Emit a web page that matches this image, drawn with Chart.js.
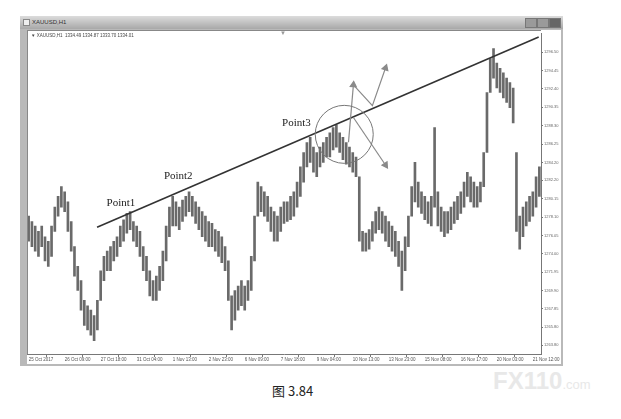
<!DOCTYPE html>
<html>
<head>
<meta charset="utf-8">
<script src="https://cdn.jsdelivr.net/npm/chart.js@4/dist/chart.umd.min.js"></script>
<style>
body { margin:0; width:621px; height:419px; background:#fff; position:relative; overflow:hidden; font-family:"Liberation Sans", Arial, sans-serif; }
#win { position:absolute; left:20px; top:16px; width:543px; height:350px; background:#b9b9b9; }
#titlebar { position:absolute; left:0; top:0; width:543px; height:13px; background:linear-gradient(#dcdcdc, #a8a8a8); }
#icon { position:absolute; left:3px; top:3px; width:5px; height:5px; background:#eee; border:1px solid #888; }
#titletext { position:absolute; left:12px; top:3px; font-size:6px; line-height:7px; color:#333; }
.btn { position:absolute; top:2px; width:10px; height:8px; background:#9a9a9a; border:1px solid #777; }
#content { position:absolute; left:7px; top:14px; width:534px; height:334px; background:#fff; }
#frame { position:absolute; left:0; top:0; width:513px; height:323px; border-left:1px solid #888; border-top:1px solid #888; pointer-events:none; }
#info { position:absolute; left:4px; top:3px; font-size:4.5px; line-height:5px; color:#444; white-space:pre; }
#shift { position:absolute; left:253px; top:0px; font-size:6px; color:#999; }
#caption { position:absolute; left:272px; top:381px; font-size:13px; color:#222; font-family:"Noto Sans CJK SC", sans-serif; }
#mark { position:absolute; left:493px; top:368px; font-size:24px; line-height:26px; font-weight:bold; color:#e8e8e8; font-family:"Liberation Sans", Arial, sans-serif; }
#mark span { font-size:13px; font-weight:normal; }
</style>
</head>
<body>
<div id="win">
  <div id="titlebar">
    <div id="icon"></div>
    <div id="titletext">XAUUSD,H1</div>
    <div class="btn" style="left:505px"></div>
    <div class="btn" style="left:517px"></div>
    <div class="btn" style="left:529px;background:#666"></div>
  </div>
  <div id="content">
    <canvas id="chart" width="534" height="334"></canvas>
    <div id="frame"></div>
    <div id="info">▼ XAUUSD,H1  1334.49 1334.87 1333.70 1334.01</div>
    <div id="shift">▼</div>
  </div>
</div>
<div id="caption">图 3.84</div>
<div id="mark">FX110<span>.com</span></div>
<script>
// x tick labels, one every 11 bars (33 hours)
const xTickLabels = ['25 Oct 2017', '26 Oct 09:00', '27 Oct 18:00', '31 Oct 04:00', '1 Nov 13:00',
    '2 Nov 23:00', '6 Nov 09:00', '7 Nov 18:00', '9 Nov 04:00', '10 Nov 13:00', '13 Nov 23:00',
    '15 Nov 08:00', '16 Nov 17:00', '20 Nov 03:00', '21 Nov 12:00'];
const xTickIndex = [0, 11, 22, 33, 44, 55, 66, 77, 88, 99, 110, 121, 132, 143, 154];
const yTickLabels = ['1296.50', '1294.45', '1292.40', '1290.35', '1288.30', '1286.25', '1284.20',
    '1282.20', '1280.15', '1278.10', '1276.05', '1274.00', '1271.95', '1269.90', '1267.85',
    '1265.80', '1263.80'];

// price range of each 3-hour group
const highs = [1278.2,1277.6,1277.1,1276.5,1277.1,1275.9,1275.4,1277.1,1279.2,1280.4,
    1281.5,1280.9,1279.8,1277.6,1274.8,1272.6,1271.0,1268.8,1268.2,1267.7,
    1267.1,1268.8,1272.1,1273.7,1274.3,1274.8,1275.4,1275.9,1277.1,1277.8,
    1278.5,1278.7,1277.6,1277.1,1276.5,1274.8,1273.7,1272.1,1271.0,1271.5,
    1272.6,1274.3,1277.1,1279.2,1280.4,1279.8,1279.2,1280.0,1280.4,1280.9,
    1280.4,1279.8,1279.2,1278.7,1278.2,1277.6,1277.4,1276.7,1276.5,1275.9,
    1274.8,1273.2,1269.3,1269.9,1270.4,1271.0,1270.4,1271.0,1273.7,1278.2,
    1282.0,1281.5,1280.9,1280.4,1279.2,1278.7,1278.2,1279.2,1279.8,1279.8,
    1280.4,1280.9,1282.0,1283.7,1285.3,1286.4,1287.0,1285.9,1285.3,1285.9,
    1286.4,1287.0,1287.5,1288.1,1288.4,1287.5,1287.0,1286.4,1285.9,1285.3,
    1284.8,1282.6,1276.5,1276.3,1276.7,1277.6,1278.7,1279.2,1278.7,1278.2,
    1277.6,1277.1,1276.5,1275.4,1274.3,1275.9,1278.2,1281.5,1284.2,1282.0,
    1280.9,1280.4,1279.8,1280.4,1288.1,1280.9,1279.2,1278.7,1278.7,1279.2,
    1279.8,1280.4,1280.9,1282.0,1283.1,1282.6,1282.0,1281.5,1282.0,1285.3,
    1292.0,1295.8,1296.9,1295.3,1294.7,1294.2,1293.6,1293.1,1292.5,1285.3,
    1278.2,1279.2,1279.8,1280.4,1280.9,1282.6,1283.7];
const lows = [1275.4,1274.8,1274.3,1273.7,1274.8,1273.2,1272.6,1273.7,1276.5,1278.2,
    1279.2,1278.7,1276.5,1274.3,1271.5,1269.9,1267.7,1266.0,1265.5,1264.9,
    1264.3,1265.5,1268.8,1271.0,1272.1,1272.1,1273.2,1273.7,1274.8,1275.4,
    1276.3,1276.7,1275.4,1274.8,1273.7,1272.1,1271.0,1269.3,1268.8,1268.8,
    1269.9,1271.0,1273.2,1275.9,1277.1,1277.1,1276.7,1277.6,1278.2,1278.7,
    1278.2,1277.4,1276.7,1275.9,1275.4,1274.8,1274.8,1274.3,1273.7,1273.0,
    1272.1,1268.8,1265.5,1266.6,1267.7,1268.2,1267.7,1268.8,1269.9,1273.2,
    1278.2,1278.7,1278.2,1277.6,1276.5,1275.4,1275.4,1276.5,1277.4,1277.6,
    1277.8,1278.2,1279.2,1280.4,1282.0,1283.7,1284.2,1283.1,1282.6,1283.7,
    1284.2,1284.8,1284.8,1285.6,1285.9,1285.3,1284.5,1284.0,1283.7,1283.1,
    1282.6,1275.4,1274.3,1274.3,1274.5,1275.4,1276.3,1276.7,1276.3,1275.4,
    1274.8,1274.3,1273.7,1272.6,1269.9,1272.1,1274.8,1278.2,1279.8,1279.2,
    1278.5,1277.8,1277.4,1277.1,1279.2,1277.1,1276.5,1275.9,1276.3,1276.7,
    1277.4,1277.8,1278.5,1279.2,1280.4,1279.8,1279.2,1279.2,1279.8,1281.5,
    1285.3,1292.0,1293.6,1292.5,1292.0,1291.4,1290.9,1290.3,1288.6,1276.5,
    1274.5,1275.9,1277.1,1277.6,1278.2,1279.2,1280.4];

// trend line through the three highs
const trendX = [20.9, 155.8];
const trendY = [1276.95, 1298.21];

// circle round point 3
const circleX = 96.4, circleY = 1287.33, circleR = 29;

// arrows
const arrowUpX = [97.7, 99.2], arrowUpY = [1286.45, 1292.85];
const arrowZigX = [99.2, 105.0, 109.0], arrowZigY = [1292.85, 1290.53, 1294.73];
const arrowDownX = [99.2, 109.0], arrowDownY = [1289.21, 1283.91];

// text notes
const noteTexts = ['Point1', 'Point2', 'Point3'];
const noteX = [28.2, 45.7, 81.8];
const noteY = [1279.6, 1282.7, 1288.55];

function pts(xs, ys) {
    return xs.map((x, k) => ({ x: x, y: ys[k] }));
}

function arrow(xs, ys, rot) {
    return {
        type: 'line',
        data: pts(xs, ys),
        borderColor: '#8a8a8a',
        borderWidth: 1.2,
        pointStyle: 'triangle',
        pointRadius: ctx => ctx.dataIndex === xs.length - 1 ? 3.5 : 0,
        pointRotation: rot,
        pointBackgroundColor: '#8a8a8a',
        pointBorderColor: '#8a8a8a',
        order: 0
    };
}

const notesPlugin = {
    id: 'notes',
    afterDatasetsDraw(c) {
        const ctx = c.ctx;
        ctx.save();
        ctx.font = '11px "Liberation Serif", "DejaVu Serif", serif';
        ctx.fillStyle = '#222';
        ctx.textAlign = 'center';
        ctx.textBaseline = 'middle';
        noteTexts.forEach((t, k) => {
            ctx.fillText(t, c.scales.x.getPixelForValue(noteX[k]), c.scales.y.getPixelForValue(noteY[k]));
        });
        ctx.restore();
    }
};

const axisFont = { family: '"Liberation Sans", Arial, sans-serif', size: 4.5 };

new Chart(document.getElementById('chart').getContext('2d'), {
    type: 'bar',
    data: {
        datasets: [
            {
                type: 'line',
                data: pts(trendX, trendY),
                borderColor: '#333',
                borderWidth: 1.6,
                pointRadius: 0,
                order: 1
            },
            {
                type: 'bubble',
                data: [{ x: circleX, y: circleY, r: circleR }],
                backgroundColor: 'rgba(0,0,0,0)',
                borderColor: '#777',
                borderWidth: 1,
                order: 0
            },
            arrow(arrowUpX, arrowUpY, 5),
            arrow(arrowZigX, arrowZigY, 19),
            arrow(arrowDownX, arrowDownY, 146),
            {
                type: 'bar',
                data: highs.map((h, i) => ({ x: i, y: [lows[i], h] })),
                backgroundColor: '#6a6a6a',
                barThickness: 2,
                order: 2
            }
        ]
    },
    options: {
        responsive: false,
        animation: false,
        devicePixelRatio: 1,
        layout: { padding: 0, autoPadding: false },
        plugins: { legend: { display: false }, tooltip: { enabled: false } },
        scales: {
            x: {
                type: 'linear',
                offset: false,
                min: -0.5,
                max: 156.5,
                afterBuildTicks: s => { s.ticks = xTickIndex.map(v => ({ value: v })); },
                afterFit: s => { s.height = 10; },
                ticks: {
                    autoSkip: false, maxRotation: 0, align: 'start', padding: 0,
                    font: axisFont, color: '#555',
                    callback: (v, i) => xTickLabels[i]
                },
                grid: { drawOnChartArea: false, tickLength: 3, color: '#777' },
                border: { color: '#777' }
            },
            y: {
                type: 'linear',
                position: 'right',
                min: 1262.81,
                max: 1298.60,
                afterBuildTicks: s => { s.ticks = yTickLabels.map(t => ({ value: parseFloat(t) })); },
                afterFit: s => { s.width = 20; },
                ticks: {
                    padding: 1, font: { family: axisFont.family, size: 4 }, color: '#666',
                    callback: (v, i) => yTickLabels[i]
                },
                grid: { drawOnChartArea: false, tickLength: 2, color: '#777' },
                border: { color: '#777' }
            }
        }
    },
    plugins: [notesPlugin]
});
</script>
</body>
</html>
